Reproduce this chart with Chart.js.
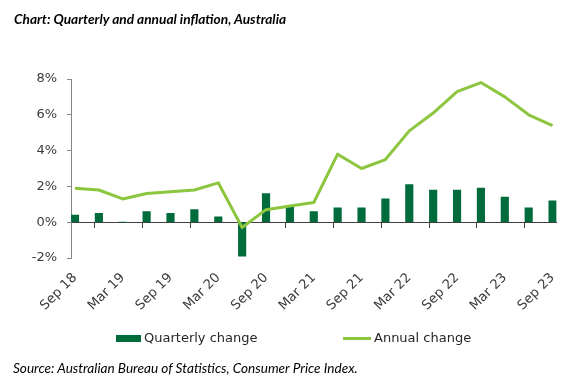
<!DOCTYPE html>
<html><head><meta charset="utf-8">
<script src="https://cdn.jsdelivr.net/npm/chart.js@4.4.0/dist/chart.umd.min.js"></script>
<style>
html,body{margin:0;padding:0;background:#fff;}
#wrap{position:relative;width:572px;height:382px;overflow:hidden;background:#fff;}
#c{position:absolute;left:0;top:0;}
.title{position:absolute;left:14px;top:10px;font:italic bold 13.7px Lato, sans-serif;color:#000;white-space:nowrap;}
.source{position:absolute;left:13px;top:360px;font:italic 13.6px Lato, sans-serif;color:#000;white-space:nowrap;}
.leg{position:absolute;top:330px;font:13px "DejaVu Sans", sans-serif;color:#262626;white-space:nowrap;}
.sw{display:inline-block;vertical-align:middle;margin-right:3px;}
</style>
</head><body>
<div id="wrap">
<canvas id="c" width="572" height="382"></canvas>
<div class="title">Chart: Quarterly and annual inflation, Australia</div>
<div class="leg" style="left:116px"><span class="sw" style="width:25px;height:7px;background:#006B3B"></span>Quarterly change</div>
<div class="leg" style="left:343px"><span class="sw" style="width:28px;height:3px;background:#8CC63E"></span>Annual change</div>
<div class="source">Source: Australian Bureau of Statistics, Consumer Price Index.</div>
</div>
<script>
const categories = ['Sep 18','Dec 18','Mar 19','Jun 19','Sep 19','Dec 19','Mar 20','Jun 20','Sep 20','Dec 20','Mar 21','Jun 21','Sep 21','Dec 21','Mar 22','Jun 22','Sep 22','Dec 22','Mar 23','Jun 23','Sep 23'];
const quarterly = [0.4,0.5,0.0,0.6,0.5,0.7,0.3,-1.9,1.6,0.9,0.6,0.8,0.8,1.3,2.1,1.8,1.8,1.9,1.4,0.8,1.2];
const annual = [1.9,1.8,1.3,1.6,1.7,1.8,2.2,-0.3,0.7,0.9,1.1,3.8,3.0,3.5,5.1,6.1,7.3,7.8,7.0,6.0,5.4];
const tickLabels = ['Sep 18','Mar 19','Sep 19','Mar 20','Sep 20','Mar 21','Sep 21','Mar 22','Sep 22','Mar 23','Sep 23'];
const yTicks = [-2,0,2,4,6,8];

const edge = 1/6;
const xMin = -edge, xMax = categories.length - 1 + edge;
const setTicks = s => { s.ticks = tickLabels.map(l => ({value: categories.indexOf(l) - edge})); };

new Chart(document.getElementById('c'), {
  type: 'bar',
  data: {
    datasets: [
      { type:'line', label:'Annual change', data: annual.map((v,i)=>({x:i,y:v})),
        borderColor:'#8CC63E', borderWidth:3, pointRadius:0, tension:0, fill:false, order:1,
        xAxisID:'x', yAxisID:'y', borderJoinStyle:'round' },
      { type:'bar', label:'Quarterly change', data: quarterly.map((v,i)=>({x:i,y:v})),
        backgroundColor:'#006B3B', barThickness:7.5, order:2, xAxisID:'x', yAxisID:'y' }
    ]
  },
  options: {
    responsive:false, animation:false, events:[],
    layout:{padding:{left:0,right:13,top:79,bottom:0}},
    plugins:{legend:{display:false}, tooltip:{enabled:false}},
    scales:{
      x:{ type:'linear', position:'bottom', min:xMin, max:xMax, offset:false,
        afterBuildTicks:setTicks,
        afterFit: s => { s.height = 124; },
        grid:{display:false, drawTicks:false}, border:{display:false},
        ticks:{autoSkip:false, minRotation:45, maxRotation:45, labelOffset:4, padding:12,
          font:{family:'DejaVu Sans', size:13.2}, color:'#3b3b3b',
          callback:(v,i)=>tickLabels[i]}
      },
      x0:{ type:'linear', position:{y:0}, min:xMin, max:xMax, offset:false,
        afterBuildTicks:setTicks,
        grid:{drawOnChartArea:false, drawTicks:true, tickLength:5, color:'#404040', lineWidth:1},
        border:{display:true, color:'#404040', width:1},
        ticks:{display:false}
      },
      y:{ type:'linear', position:'left', min:-2, max:8,
        afterBuildTicks: s => { s.ticks = yTicks.map(v=>({value:v})); },
        afterFit: s => { s.width = 71; },
        grid:{drawOnChartArea:false, drawTicks:true, tickLength:4, color:'#868686'},
        border:{display:true, color:'#868686', width:1},
        ticks:{padding:10, font:{family:'DejaVu Sans', size:13}, color:'#3b3b3b', callback:v=>v+'%'}
      }
    }
  }
});
</script>
</body></html>
